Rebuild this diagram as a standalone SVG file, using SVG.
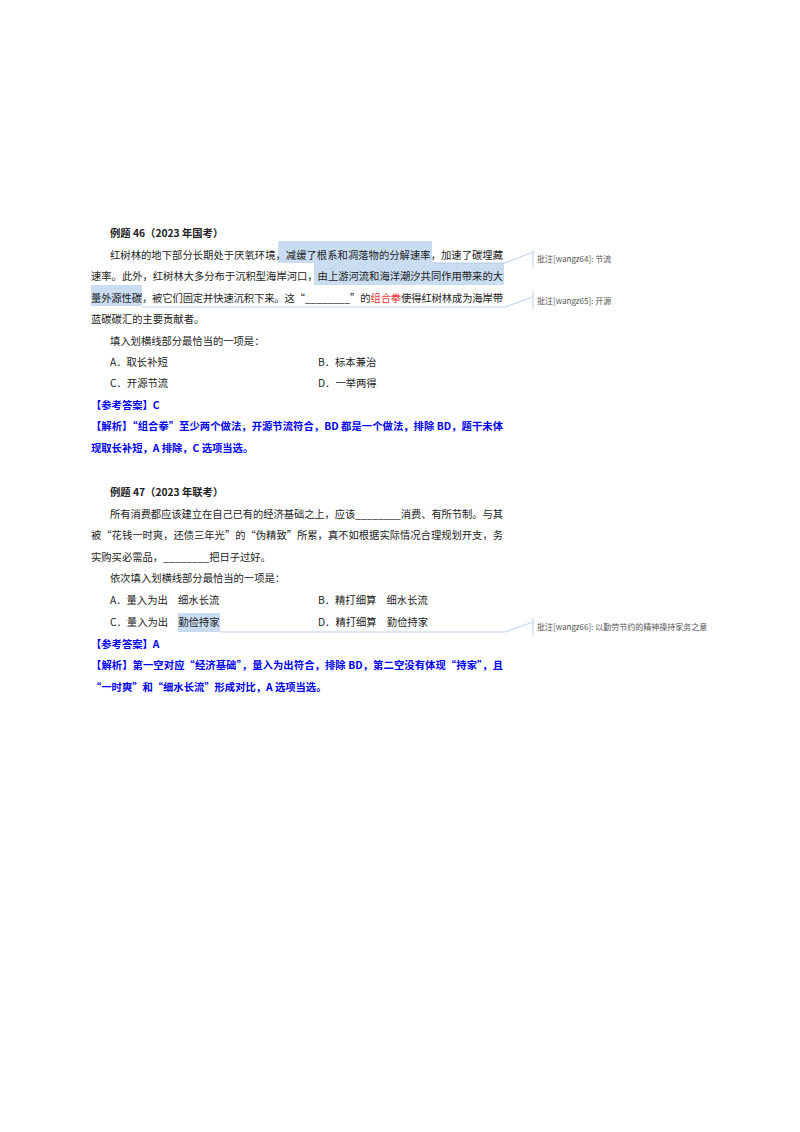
<svg xmlns="http://www.w3.org/2000/svg" width="800" height="1132" viewBox="0 0 800 1132">
<style>
text{font-family:"Noto Sans CJK SC","Liberation Serif",serif;font-size:10.3px;fill:#222}
.b{font-weight:bold}
.ans{fill:#0000ee;font-weight:bold}
.c{font-size:8px;fill:#555}
.hl{fill:#c9dcf2}
.ln{stroke:#a9c4e6;stroke-width:0.8;fill:none}
</style>
<rect width="800" height="1132" fill="#fff"/>
<g id="highlights">
<rect class="hl" x="278" y="241" width="154" height="22"/>
<rect class="hl" x="314" y="263" width="190" height="22"/>
<rect class="hl" x="91" y="285" width="51" height="21"/>
<rect class="hl" x="178" y="613" width="42" height="19"/>
</g>
<g id="connectors">
<path class="ln" d="M432 263 L505 263 L533 252"/>
<path class="ln" d="M142 307 L505 307 L533 297"/>
<path class="ln" d="M220 632 L505 632 L533 622"/>
<path class="ln" d="M533 250 V268 M533 291 V309 M533 618 V636"/>
</g>
<g id="ex46">
<text class="b" x="110" y="237">例题 46（2023 年国考）</text>
<text x="110" y="259" textLength="393" lengthAdjust="spacing">红树林的地下部分长期处于厌氧环境，减缓了根系和凋落物的分解速率，加速了碳埋藏</text>
<text x="91" y="280" textLength="412" lengthAdjust="spacing">速率。此外，红树林大多分布于沉积型海岸河口，由上游河流和海洋潮汐共同作用带来的大</text>
<text x="91" y="302" textLength="412" lengthAdjust="spacing">量外源性碳，被它们固定并快速沉积下来。这“________”的<tspan fill="#e53333">组合拳</tspan>使得红树林成为海岸带</text>
<text x="91" y="323">蓝碳碳汇的主要贡献者。</text>
<text x="110" y="345">填入划横线部分最恰当的一项是：</text>
<text x="110" y="366">A．取长补短</text>
<text x="318" y="366">B．标本兼治</text>
<text x="110" y="387">C．开源节流</text>
<text x="318" y="387">D．一举两得</text>
<text class="ans" x="91" y="409">【参考答案】C</text>
<text class="ans" x="91" y="430" textLength="412" lengthAdjust="spacing">【解析】“组合拳”至少两个做法，开源节流符合，BD 都是一个做法，排除 BD，题干未体</text>
<text class="ans" x="91" y="452">现取长补短，A 排除，C 选项当选。</text>
</g>
<g id="ex47">
<text class="b" x="110" y="496">例题 47（2023 年联考）</text>
<text x="110" y="518" textLength="393" lengthAdjust="spacing">所有消费都应该建立在自己已有的经济基础之上，应该________消费、有所节制。与其</text>
<text x="91" y="539" textLength="412" lengthAdjust="spacing">被“花钱一时爽，还债三年光”的“伪精致”所累，真不如根据实际情况合理规划开支，务</text>
<text x="91" y="561">实购买必需品，________把日子过好。</text>
<text x="110" y="582">依次填入划横线部分最恰当的一项是：</text>
<text x="110" y="604">A．量入为出　细水长流</text>
<text x="318" y="604">B．精打细算　细水长流</text>
<text x="110" y="626">C．量入为出　勤俭持家</text>
<text x="318" y="626">D．精打细算　勤俭持家</text>
<text class="ans" x="91" y="648">【参考答案】A</text>
<text class="ans" x="91" y="669" textLength="412" lengthAdjust="spacing">【解析】第一空对应“经济基础”，量入为出符合，排除 BD，第二空没有体现“持家”，且</text>
<text class="ans" x="91" y="691">“一时爽”和“细水长流”形成对比，A 选项当选。</text>
</g>
<g id="comments">
<text class="c" x="537" y="262">批注[wangz64]:  节流</text>
<text class="c" x="537" y="304">批注[wangz65]:  开源</text>
<text class="c" x="537" y="630">批注[wangz66]:  以勤劳节约的精神操持家务之意</text>
</g>
</svg>
